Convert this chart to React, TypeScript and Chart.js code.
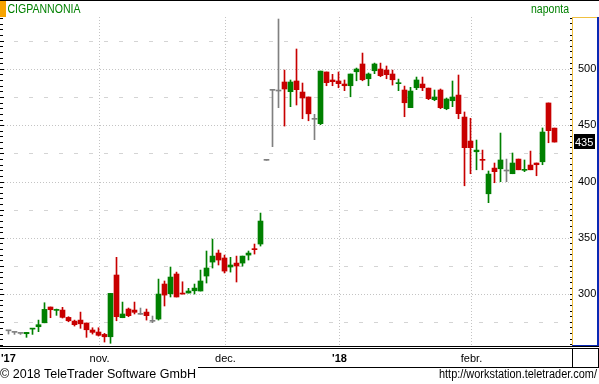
import { useEffect, useRef } from 'react';
import { Chart, registerables } from 'chart.js';

Chart.register(...registerables);

// ---- data ----
const dates = [
  '2017-10-10', '2017-10-11', '2017-10-12', '2017-10-13', '2017-10-16', '2017-10-17', '2017-10-18', '2017-10-19', '2017-10-20',
  '2017-10-24', '2017-10-25', '2017-10-26', '2017-10-27', '2017-10-30', '2017-10-31',
  '2017-11-02', '2017-11-03', '2017-11-06', '2017-11-07', '2017-11-08', '2017-11-09', '2017-11-10', '2017-11-13', '2017-11-14',
  '2017-11-15', '2017-11-16', '2017-11-17', '2017-11-20', '2017-11-21', '2017-11-22', '2017-11-23', '2017-11-24', '2017-11-27',
  '2017-11-28', '2017-11-29', '2017-11-30',
  '2017-12-01', '2017-12-04', '2017-12-05', '2017-12-06', '2017-12-07', '2017-12-08', '2017-12-11', '2017-12-12', '2017-12-13',
  '2017-12-14', '2017-12-15', '2017-12-18', '2017-12-19', '2017-12-20', '2017-12-21', '2017-12-22', '2017-12-27', '2017-12-28',
  '2017-12-29',
  '2018-01-02', '2018-01-03', '2018-01-04', '2018-01-05', '2018-01-08', '2018-01-09', '2018-01-10', '2018-01-11', '2018-01-12',
  '2018-01-15', '2018-01-16', '2018-01-17', '2018-01-18', '2018-01-19', '2018-01-22', '2018-01-23', '2018-01-24', '2018-01-25',
  '2018-01-26', '2018-01-29', '2018-01-30', '2018-01-31',
  '2018-02-01', '2018-02-02', '2018-02-05', '2018-02-06', '2018-02-07', '2018-02-08', '2018-02-09', '2018-02-12', '2018-02-13',
  '2018-02-14', '2018-02-15', '2018-02-16', '2018-02-19', '2018-02-20', '2018-02-21',
];

const openP = [
  267.5, 266.1, 265.2, 264.9, 269.0, 271.1, 274.6, 288.6, 285.6, 285.9, 279.4, 276.1, 277.0, 274.4, 268.2,
  266.4, 264.3, 262.2, 317.0, 279.1, 286.8, 285.9, 282.1, 284.1, 275.9, 277.9, 309.0, 300.4, 317.9, 300.7,
  301.0, 303.0, 302.8, 316.1, 328.5, 336.5, 332.1, 324.1, 327.6, 327.6, 334.7, 340.1, 344.5, 418.8, 480.9,
  480.3, 488.3, 479.7, 489.2, 479.4, 475.0, 455.2, 451.3, 497.2, 490.1, 489.2, 486.5, 485.0, 497.4, 504.3,
  491.2, 498.3, 499.8, 498.9, 495.4, 486.8, 481.2, 465.5, 483.2, 486.5, 482.9, 472.6, 481.2, 464.6, 471.7,
  476.7, 457.2, 435.9, 426.4, 419.3, 389.1, 411.9, 411.3, 409.3, 406.9, 419.9, 409.9, 414.6, 416.4, 417.5,
  469.7, 447.4,
];
const highP = [
  267.5, 266.1, 265.2, 266.1, 269.7, 277.0, 292.4, 288.6, 286.8, 288.3, 280.0, 277.0, 284.1, 274.4, 270.2,
  270.2, 265.2, 300.7, 332.7, 293.0, 287.7, 293.0, 287.7, 286.8, 280.6, 313.4, 311.7, 324.1, 319.6, 311.0,
  305.2, 309.0, 321.4, 338.3, 348.9, 339.2, 334.7, 332.7, 333.8, 333.8, 338.3, 344.5, 372.0, 418.8, 480.9,
  544.2, 498.9, 490.1, 517.6, 487.4, 475.0, 459.6, 498.0, 497.2, 495.1, 497.2, 490.1, 495.4, 500.7, 514.0,
  496.3, 505.1, 505.1, 502.5, 498.9, 490.9, 484.7, 483.6, 492.7, 492.7, 482.9, 481.2, 482.1, 474.1, 489.2,
  494.5, 461.7, 456.1, 436.8, 427.9, 409.3, 416.4, 443.0, 419.9, 425.3, 419.9, 419.1, 427.0, 416.4, 447.5,
  469.7, 447.4,
];
const lowP = [
  264.6, 264.3, 264.3, 261.7, 264.3, 266.7, 274.6, 279.1, 281.2, 278.8, 275.5, 271.7, 269.7, 261.7, 264.6,
  262.8, 257.5, 256.4, 276.4, 279.1, 280.0, 282.4, 282.1, 277.0, 274.7, 277.0, 289.5, 297.5, 297.5, 300.1,
  301.0, 300.1, 302.8, 309.9, 323.2, 325.9, 318.8, 319.6, 310.8, 324.9, 330.3, 335.6, 342.7, 418.8, 430.9,
  465.5, 449.2, 466.4, 467.9, 455.7, 453.9, 437.1, 450.4, 485.0, 485.0, 483.2, 480.6, 475.2, 489.4, 489.4,
  485.0, 495.7, 493.0, 491.2, 485.6, 480.6, 457.5, 465.5, 481.5, 480.6, 472.6, 471.7, 464.6, 463.7, 466.4,
  455.7, 396.2, 406.9, 410.4, 410.4, 381.2, 398.9, 399.8, 399.8, 406.9, 410.4, 408.7, 410.4, 405.1, 414.9,
  434.4, 435.0,
];
const closeP = [
  267.5, 266.1, 265.2, 266.1, 269.7, 272.9, 286.5, 286.2, 286.0, 279.4, 276.4, 272.9, 273.7, 268.4, 266.1,
  263.5, 262.2, 300.7, 280.0, 282.4, 280.9, 283.9, 282.1, 280.9, 275.9, 300.1, 299.2, 315.2, 297.5, 300.1,
  302.8, 305.4, 311.7, 323.2, 333.8, 330.3, 320.5, 325.9, 325.0, 333.8, 336.5, 339.5, 364.9, 418.8, 480.9,
  480.3, 482.1, 488.3, 481.5, 474.1, 460.1, 455.2, 498.0, 487.7, 488.6, 486.8, 485.0, 495.4, 499.8, 490.3,
  495.4, 504.3, 493.9, 494.8, 490.3, 487.3, 469.9, 480.3, 490.1, 483.2, 473.5, 475.0, 465.5, 473.2, 475.0,
  460.2, 430.0, 430.0, 427.9, 418.8, 406.6, 408.7, 419.1, 409.3, 416.4, 410.4, 410.4, 410.4, 414.9, 443.9,
  445.1, 435.0,
];

const yLabels = [300, 350, 400, 450, 500];
const yMinorGrid = [275, 325, 375, 425, 475, 525];
const monthStarts = ['2017-11-02', '2017-12-01', '2018-01-02', '2018-02-01'];
const monthLabels = ['nov.', 'dec.', "'18", 'febr.'];
const monthBold = [false, false, true, false];
const firstLabel = "'17";
const title = 'CIGPANNONIA';
const period = 'naponta';
const footerLeft = '\u00A9 2018 TeleTrader Software GmbH';
const footerRight = 'http://workstation.teletrader.com/';

const GREEN = '#008000';
const RED = '#c80000';
const GRAY = '#808080';
const FONT = '"Liberation Sans", Arial, sans-serif';

const candleColors = closeP.map((c, i) => (c > openP[i] ? GREEN : c < openP[i] ? RED : GRAY));

function fitText(ctx: CanvasRenderingContext2D, text: string, x: number, y: number, w: number) {
  const m = ctx.measureText(text).width;
  ctx.save();
  ctx.translate(x, y);
  ctx.scale(w / m, 1);
  ctx.textAlign = 'left';
  ctx.fillText(text, 0, 0);
  ctx.restore();
}

const decor = {
  id: 'decor',
  beforeDatasetsDraw(chart: any) {
    const { ctx, chartArea: a, scales } = chart;
    const ys = scales.y;
    const xs = scales.x;
    ctx.save();
    ctx.lineWidth = 1;
    // horizontal grid
    ctx.strokeStyle = '#d4d4d4';
    ctx.setLineDash([4, 11]);
    yMinorGrid.forEach((v) => {
      const y = Math.round(ys.getPixelForValue(v)) + 0.5;
      ctx.beginPath();
      ctx.moveTo(a.left + 14, y);
      ctx.lineTo(a.right, y);
      ctx.stroke();
    });
    ctx.strokeStyle = '#c4c4c4';
    ctx.setLineDash([1, 2]);
    yLabels.forEach((v) => {
      const y = Math.round(ys.getPixelForValue(v)) + 0.5;
      ctx.beginPath();
      ctx.moveTo(a.left + 4, y);
      ctx.lineTo(a.right, y);
      ctx.stroke();
    });
    // vertical month grid
    monthStarts.forEach((d) => {
      const x = Math.round(xs.getPixelForValue(dates.indexOf(d))) + 0.5;
      ctx.beginPath();
      ctx.moveTo(x, a.top);
      ctx.lineTo(x, a.bottom);
      ctx.stroke();
    });
    ctx.restore();
  },
  afterDraw(chart: any) {
    const { ctx, chartArea: a, scales, width } = chart;
    const ys = scales.y;
    const xs = scales.x;
    ctx.save();
    ctx.setLineDash([]);
    ctx.lineWidth = 1;
    // left ticks
    ctx.strokeStyle = '#000';
    for (let v = 255; v <= 545; v += 5) {
      const y = Math.round(ys.getPixelForValue(v)) + 0.5;
      ctx.beginPath();
      ctx.moveTo(0, y);
      ctx.lineTo(v % 25 === 0 ? 4 : 3, y);
      ctx.stroke();
    }
    // right axis box
    ctx.fillStyle = '#f0c040';
    ctx.fillRect(a.right + 2, a.top, 1, a.bottom - a.top);
    ctx.fillRect(a.right + 2, a.top, 26, 1);
    ctx.fillStyle = '#0a28b4';
    ctx.fillRect(597, a.top, 2, a.bottom - a.top);
    ctx.fillRect(a.right + 2, a.bottom - 1, 27, 2);
    // last price box
    const last = closeP[closeP.length - 1];
    const ly = ys.getPixelForValue(last);
    ctx.fillStyle = '#000';
    ctx.fillRect(574, Math.round(ly) - 8, 21, 15);
    ctx.fillStyle = '#fff';
    ctx.font = `11px ${FONT}`;
    ctx.textBaseline = 'alphabetic';
    ctx.textAlign = 'left';
    ctx.fillText(String(Math.round(last)), 575, Math.round(ly) + 4);
    // top line, orange block
    ctx.fillStyle = '#000';
    ctx.fillRect(0, 0, width, 1);
    ctx.fillStyle = '#f7a400';
    ctx.fillRect(0, 1, 6, 16);
    // titles
    ctx.fillStyle = GREEN;
    ctx.font = `12px ${FONT}`;
    fitText(ctx, title, 7.5, 13, 73);
    fitText(ctx, period, 531, 13, 38);
    // bottom lines
    ctx.fillStyle = '#000';
    ctx.fillRect(0, a.bottom, width, 1);
    ctx.fillRect(0, a.bottom + 2, width, 1);
    ctx.fillRect(198, 367, width - 198, 1);
    ctx.fillRect(572, a.bottom + 2, 1, 367 - a.bottom - 2);
    ctx.fillRect(598, a.bottom + 2, 1, 367 - a.bottom - 2);
    // x labels
    ctx.fillStyle = '#000';
    ctx.font = `bold 11px ${FONT}`;
    ctx.textAlign = 'left';
    ctx.fillText(firstLabel, 1, 361.5);
    monthStarts.forEach((d, i) => {
      const x = xs.getPixelForValue(dates.indexOf(d)) + 1;
      ctx.font = `${monthBold[i] ? 'bold ' : ''}11px ${FONT}`;
      ctx.textAlign = 'center';
      ctx.fillText(monthLabels[i], x, 361.5);
    });
    // footer
    ctx.font = `12px ${FONT}`;
    fitText(ctx, footerLeft, 0, 378, 196);
    fitText(ctx, footerRight, 439, 378, 158);
    ctx.restore();
  },
};

export default function App() {
  const ref = useRef<HTMLCanvasElement>(null);
  useEffect(() => {
    document.body.style.margin = '0';
    const canvas = ref.current;
    if (!canvas) return;
    const minorTicks: number[] = [];
    for (let v = 255; v <= 545; v += 5) minorTicks.push(v);
    const chart = new Chart(canvas, {
      type: 'bar',
      data: {
        datasets: [
          {
            label: 'body',
            data: dates.map((_, i) => ({ x: i, y: [openP[i], closeP[i]] })) as any,
            backgroundColor: candleColors,
            barThickness: 5,
            minBarLength: 1,
            grouped: false,
            order: 0,
          } as any,
          {
            label: 'wick',
            data: dates.map((_, i) => ({ x: i, y: [lowP[i], highP[i]] })) as any,
            backgroundColor: candleColors,
            barThickness: 1,
            grouped: false,
            order: 1,
          } as any,
        ],
      },
      options: {
        responsive: false,
        animation: false,
        events: [],
        layout: { padding: { left: 0, right: 0, top: 17, bottom: 38 } },
        plugins: { legend: { display: false }, tooltip: { enabled: false } },
        scales: {
          x: {
            type: 'linear',
            min: -1.41667,
            max: 93.58333,
            offset: false,
            grid: { offset: false },
            display: false,
          },
          y: {
            position: 'right',
            min: 254,
            max: 546,
            afterBuildTicks: (s: any) => {
              s.ticks = minorTicks.map((v) => ({ value: v }));
            },
            afterFit: (s: any) => {
              s.width = 29;
            },
            grid: { drawOnChartArea: false, drawTicks: true, tickLength: 2, tickColor: '#000', tickWidth: 1 },
            border: { display: false },
            ticks: {
              padding: 6,
              color: '#000',
              autoSkip: false,
              maxRotation: 0,
              font: { family: FONT, size: 11 },
              callback: (v: any) => (yLabels.includes(Number(v)) ? String(v) : ''),
            },
          },
        },
      } as any,
      plugins: [decor],
    });
    return () => chart.destroy();
  }, []);
  return <canvas ref={ref} width={599} height={384} style={{ display: 'block' }} />;
}
